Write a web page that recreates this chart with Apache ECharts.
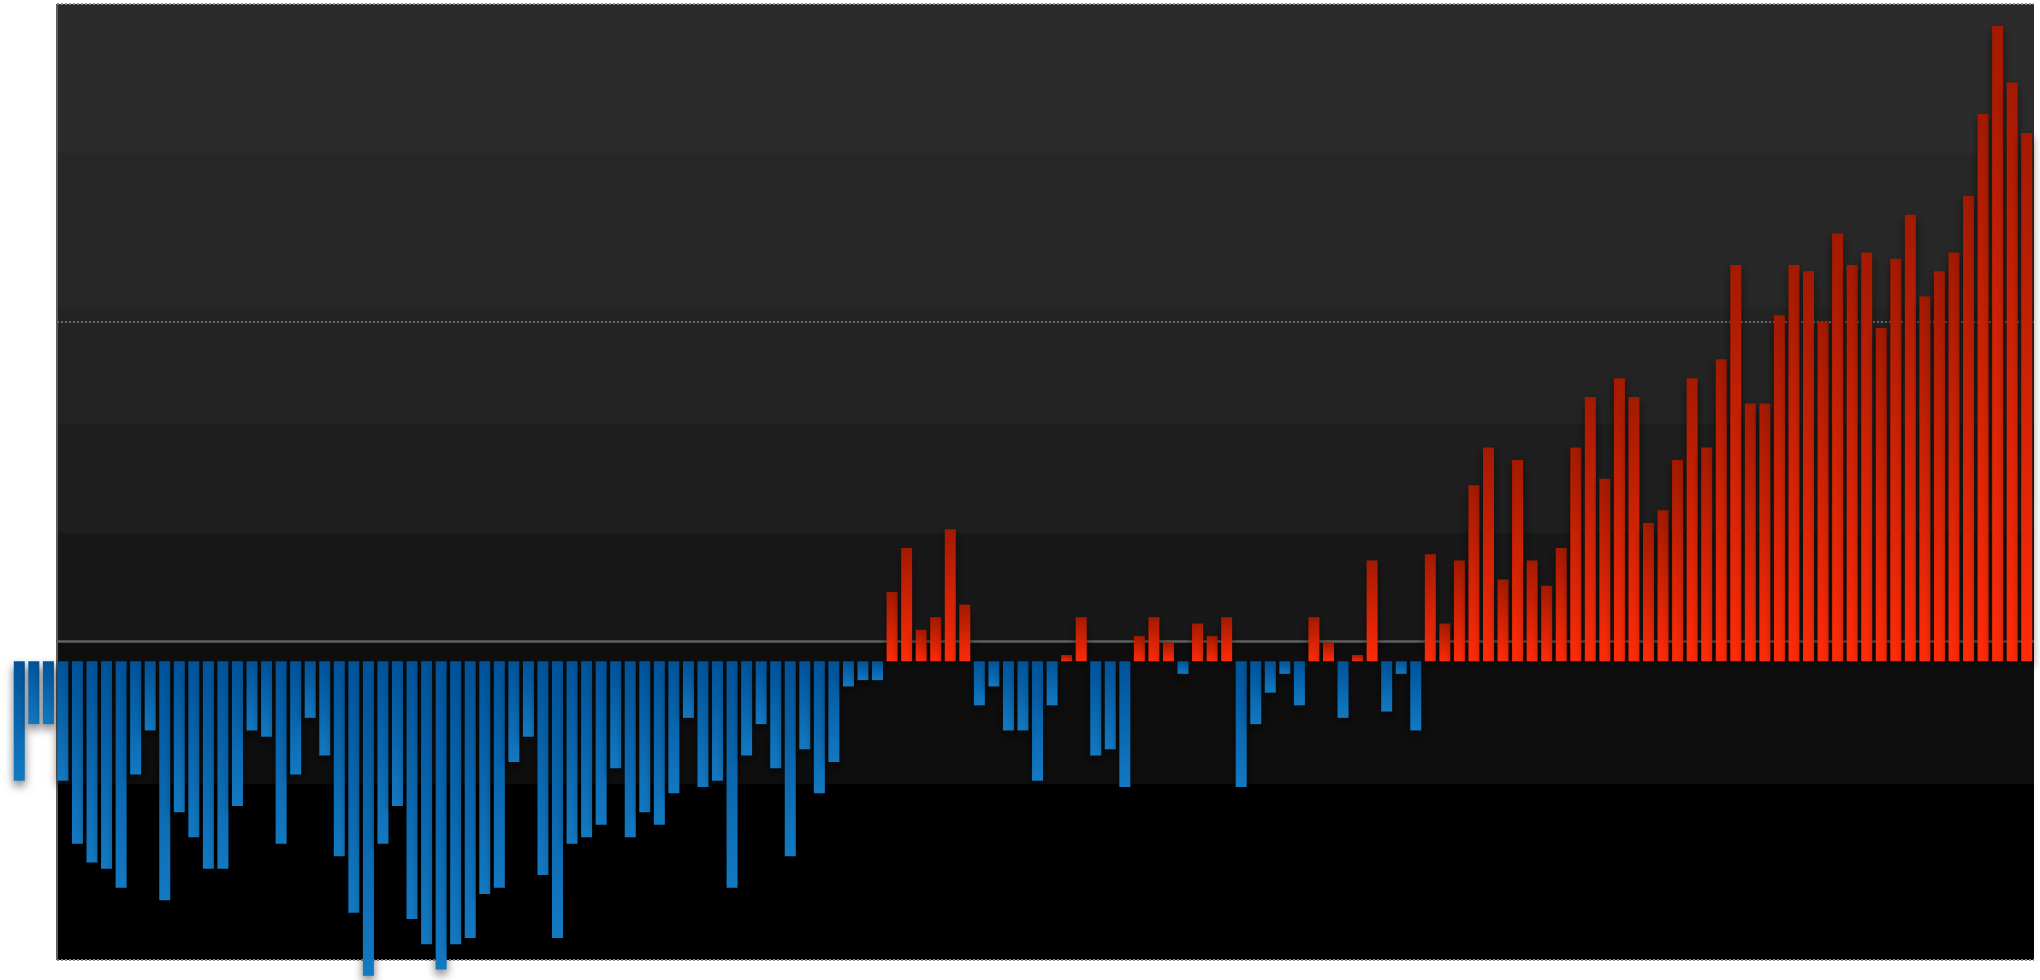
<!DOCTYPE html>
<html>
<head>
<meta charset="utf-8">
<title>Global temperature anomaly</title>
<script src="https://cdn.jsdelivr.net/npm/echarts@6/dist/echarts.min.js"></script>
<style>
    html, body { margin: 0; padding: 0; background: #fff; }
    #chart { width: 2040px; height: 980px; }
</style>
</head>
<body>
<div id="chart"></div>
<script>
// years shown, one bar each
var firstYear = 1880;
var lastYear = 2018;

// annual anomaly (°C)
var anomalies1880 = [-0.19, -0.10, -0.10, -0.19, -0.29, -0.32, -0.33, -0.36, -0.18, -0.11,
    -0.38, -0.24, -0.28, -0.33, -0.33, -0.23, -0.11, -0.12, -0.29, -0.18];
var anomalies1900 = [-0.09, -0.15, -0.31, -0.40, -0.50, -0.29, -0.23, -0.41, -0.45, -0.49,
    -0.45, -0.44, -0.37, -0.36, -0.16, -0.12, -0.34, -0.44, -0.29, -0.28];
var anomalies1920 = [-0.26, -0.17, -0.28, -0.24, -0.26, -0.21, -0.09, -0.20, -0.19, -0.36,
    -0.15, -0.10, -0.17, -0.31, -0.14, -0.21, -0.16, -0.04, -0.03, -0.03];
var anomalies1940 = [0.11, 0.18, 0.05, 0.07, 0.21, 0.09, -0.07, -0.04, -0.11, -0.11,
    -0.19, -0.07, 0.01, 0.07, -0.15, -0.14, -0.20, 0.04, 0.07, 0.03];
var anomalies1960 = [-0.02, 0.06, 0.04, 0.07, -0.20, -0.10, -0.05, -0.02, -0.07, 0.07,
    0.03, -0.09, 0.01, 0.16, -0.08, -0.02, -0.11, 0.17, 0.06, 0.16];
var anomalies1980 = [0.28, 0.34, 0.13, 0.32, 0.16, 0.12, 0.18, 0.34, 0.42, 0.29,
    0.45, 0.42, 0.22, 0.24, 0.32, 0.45, 0.34, 0.48, 0.63, 0.41];
var anomalies2000 = [0.41, 0.55, 0.63, 0.62, 0.54, 0.68, 0.63, 0.65, 0.53, 0.64,
    0.71, 0.58, 0.62, 0.65, 0.74, 0.87, 1.01, 0.92, 0.84];

// value range of the plot and the background bands (°C)
var yMin = -0.475;
var yMax = 1.045;
var bandEdges = [1.045, 0.808, 0.562, 0.377, 0.204, 0.032, -0.195];
var bandColors = ["#2b2b2b", "#272727", "#232323", "#1e1e1e", "#181818", "#0e0e0e", "#000000"];
var refLine = 0.032;
var dotLine = 0.539;
// the dark box starts a little after the third bar
var boxLeft = 3.09;
var boxRight = 139.2;
var ruleRight = 139;

var years = [];
for (var y = firstYear; y <= lastYear; y++) {
    years.push(String(y));
}
var anomalies = anomalies1880.concat(anomalies1900, anomalies1920, anomalies1940,
    anomalies1960, anomalies1980, anomalies2000);

var warm = new echarts.graphic.LinearGradient(0, 0, 0, 1, [
    { offset: 0, color: "#a31a00" },
    { offset: 1, color: "#ff2b08" }
]);
var cold = new echarts.graphic.LinearGradient(0, 0, 0, 1, [
    { offset: 0, color: "#00539a" },
    { offset: 1, color: "#1379c1" }
]);

var barData = [];
for (var i = 0; i < anomalies.length; i++) {
    barData.push({
        value: anomalies[i],
        itemStyle: { color: anomalies[i] >= 0 ? warm : cold }
    });
}

/**
 * 背景色带：每条都铺到底，后画的盖住前面的，避免接缝
 */
var areas = [];
for (var b = 0; b < bandColors.length; b++) {
    areas.push([
        { xAxis: boxLeft, yAxis: bandEdges[b], itemStyle: { color: bandColors[b] } },
        { xAxis: boxRight, yAxis: yMin }
    ]);
}

function hLine(v, style) {
    return [{ coord: [boxLeft, v], lineStyle: style }, { coord: [ruleRight, v] }];
}

var lines = [
    hLine(yMax, { color: "#8c8c8c", width: 2, type: [2, 2] }),
    hLine(yMin, { color: "#8c8c8c", width: 2, type: [2, 2] }),
    hLine(dotLine, { color: "#6e6e6e", width: 2, type: [2, 2] }),
    hLine(refLine, { color: "#5e635f", width: 2.5, type: "solid" }),
    [{ coord: [boxLeft, yMax], lineStyle: { color: "#5e5e5e", width: 2, type: "solid" } },
     { coord: [boxLeft, yMin] }]
];

var chart = echarts.init(document.getElementById("chart"));
chart.setOption({
    backgroundColor: "#ffffff",
    animation: false,
    grid: { left: 12, right: 6, top: 4, bottom: 20 },
    xAxis: [
        { type: "category", data: years, show: false },
        { type: "value", min: 0, max: 139, show: false }
    ],
    yAxis: {
        type: "value",
        min: yMin,
        max: yMax,
        show: false,
        splitLine: { show: false }
    },
    series: [
        {
            name: "box",
            type: "line",
            xAxisIndex: 1,
            data: [[0, 0]],
            symbol: "none",
            lineStyle: { opacity: 0 },
            silent: true,
            z: 0,
            markArea: { silent: true, data: areas }
        },
        {
            name: "rules",
            type: "line",
            xAxisIndex: 1,
            data: [[0, 0]],
            symbol: "none",
            lineStyle: { opacity: 0 },
            silent: true,
            z: 1,
            markLine: {
                silent: true,
                symbol: "none",
                label: { show: false },
                data: lines
            }
        },
        {
            name: "anomaly",
            type: "bar",
            data: barData,
            barWidth: 11,
            clip: false,
            z: 5,
            itemStyle: {
                shadowColor: "rgba(0,0,0,0.55)",
                shadowBlur: 10,
                shadowOffsetY: 5
            }
        }
    ]
});
</script>
</body>
</html>
